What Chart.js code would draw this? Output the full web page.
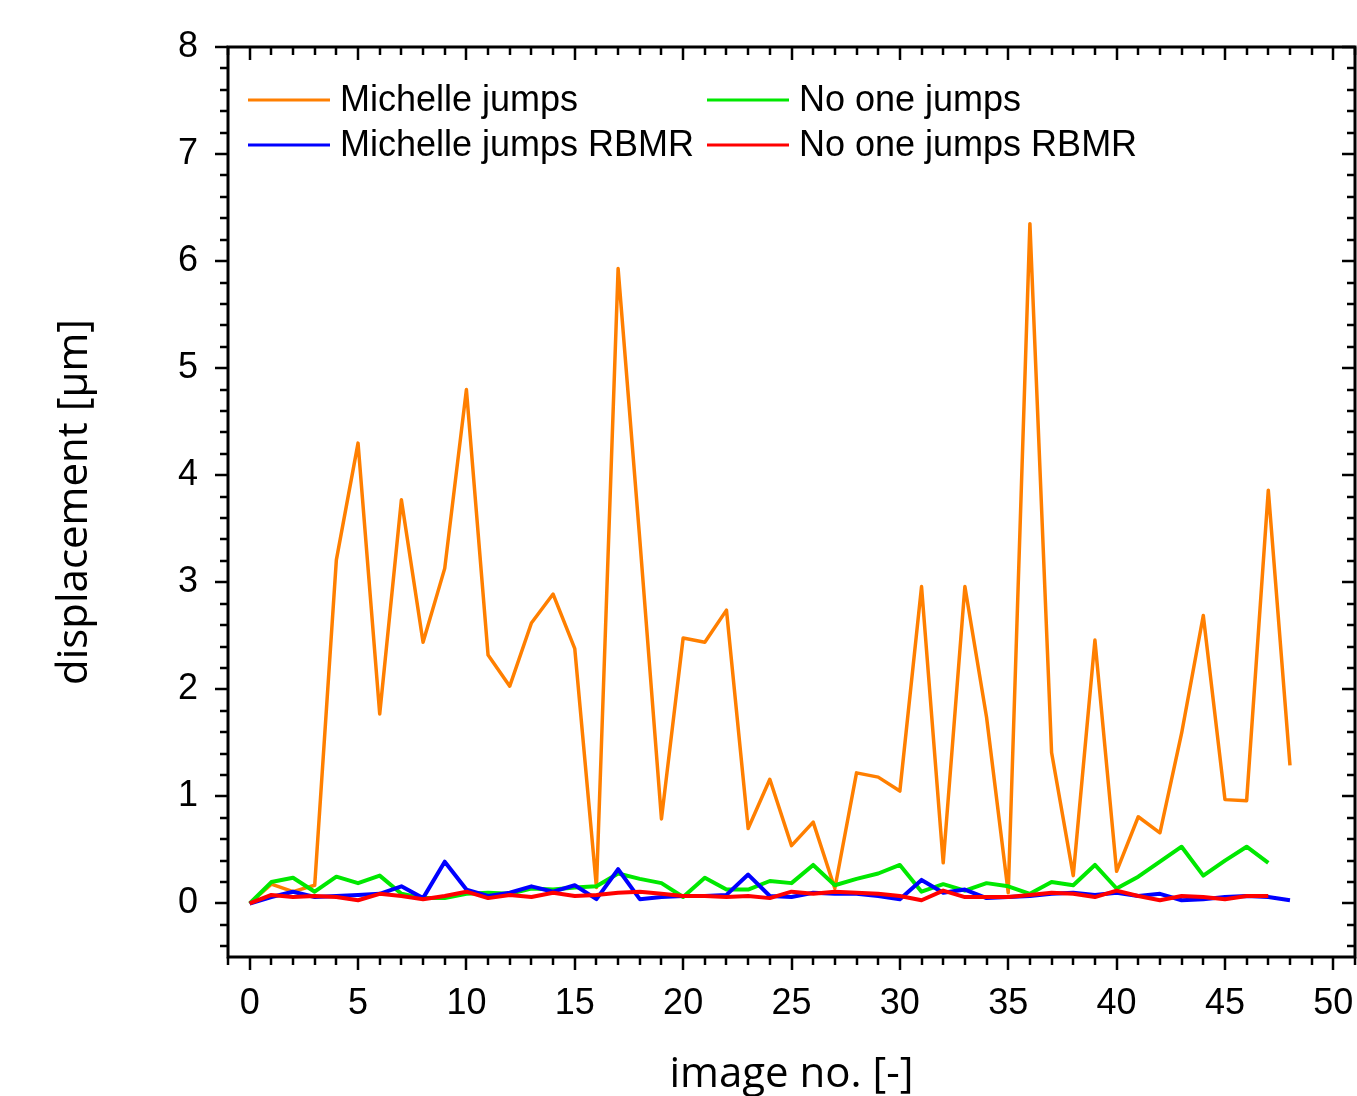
<!DOCTYPE html>
<html>
<head>
<meta charset="utf-8">
<script src="https://cdn.jsdelivr.net/npm/chart.js@4.4.1/dist/chart.umd.min.js"></script>
<style>
  html, body { margin: 0; padding: 0; background: #fff; }
  #wrap { width: 1357px; height: 1096px; }
</style>
</head>
<body>
<div id="wrap"><canvas id="chart1"></canvas></div>
<script>
// image numbers
const imageNo = [0, 1, 2, 3, 4, 5, 6, 7, 8, 9, 10, 11, 12, 13, 14, 15, 16, 17, 18, 19, 20,
  21, 22, 23, 24, 25, 26, 27, 28, 29, 30, 31, 32, 33, 34, 35, 36, 37, 38, 39, 40,
  41, 42, 43, 44, 45, 46, 47, 48];

// displacement in µm
const michelleJumps = [0, 0.18, 0.11, 0.17, 3.21, 4.30, 1.77, 3.77, 2.44, 3.13, 4.80, 2.32,
  2.03, 2.62, 2.89, 2.38, 0.15, 5.93, 3.40, 0.79, 2.48, 2.44, 2.74, 0.70, 1.16, 0.54, 0.76,
  0.14, 1.22, 1.18, 1.05, 2.96, 0.38, 2.96, 1.74, 0.10, 6.35, 1.41, 0.26, 2.46, 0.30, 0.81,
  0.66, 1.59, 2.69, 0.97, 0.96, 3.86, 1.29];
const noOneJumps = [0, 0.20, 0.24, 0.11, 0.25, 0.19, 0.26, 0.09, 0.05, 0.05, 0.09, 0.10,
  0.09, 0.14, 0.13, 0.15, 0.16, 0.28, 0.23, 0.19, 0.06, 0.24, 0.13, 0.13, 0.21, 0.19, 0.36,
  0.17, 0.23, 0.28, 0.36, 0.11, 0.18, 0.12, 0.19, 0.16, 0.09, 0.20, 0.17, 0.36, 0.14, 0.25,
  0.39, 0.53, 0.26, 0.40, 0.53, 0.38];
const michelleJumpsRBMR = [0, 0.06, 0.11, 0.06, 0.07, 0.08, 0.09, 0.16, 0.05, 0.39, 0.13,
  0.07, 0.10, 0.16, 0.11, 0.17, 0.04, 0.32, 0.04, 0.06, 0.07, 0.07, 0.08, 0.27, 0.07, 0.06,
  0.10, 0.09, 0.09, 0.07, 0.04, 0.22, 0.10, 0.13, 0.05, 0.06, 0.07, 0.09, 0.10, 0.08, 0.10,
  0.07, 0.09, 0.03, 0.04, 0.06, 0.07, 0.06, 0.03];
const noOneJumpsRBMR = [0, 0.08, 0.06, 0.07, 0.06, 0.03, 0.09, 0.07, 0.04, 0.07, 0.11,
  0.05, 0.08, 0.06, 0.10, 0.07, 0.08, 0.10, 0.11, 0.09, 0.07, 0.07, 0.06, 0.07, 0.05, 0.11,
  0.09, 0.11, 0.10, 0.09, 0.07, 0.03, 0.12, 0.06, 0.06, 0.06, 0.08, 0.10, 0.09, 0.06, 0.12,
  0.07, 0.03, 0.07, 0.06, 0.04, 0.07, 0.07];

function toPoints(vals) {
  return vals.map((v, i) => ({x: imageNo[i], y: v}));
}

const tickFont = {family: "'Liberation Sans', Arial, sans-serif", size: 36};
const titleFont = {family: "'Open Sans', 'Noto Sans', sans-serif", size: 42, lineHeight: 1};

// box round the plot with ticks: long ones at labels, short ones between
const frameTicks = {
  id: 'frameTicks',
  afterDatasetsDraw(chart) {
    const {ctx, chartArea: a, scales: {x, y}} = chart;
    ctx.save();
    ctx.strokeStyle = '#000';
    ctx.lineWidth = 2.5;
    ctx.beginPath();
    for (let v = -1; v <= 51; v++) {
      const px = Math.round(x.getPixelForValue(v));
      const len = v % 5 === 0 ? 13 : 8;
      ctx.moveTo(px, a.bottom); ctx.lineTo(px, a.bottom + len);
      ctx.moveTo(px, a.top); ctx.lineTo(px, a.top + len);
    }
    for (let k = -2; k <= 40; k++) {
      const py = Math.round(y.getPixelForValue(k / 5));
      const len = k % 5 === 0 ? 13 : 8;
      ctx.moveTo(a.left, py); ctx.lineTo(a.left - len, py);
      ctx.moveTo(a.right, py); ctx.lineTo(a.right - len, py);
    }
    ctx.stroke();
    ctx.lineWidth = 3;
    ctx.strokeRect(a.left, a.top, a.width, a.height);
    ctx.restore();
  }
};

// legend in two columns inside the plot
const boxLegend = {
  id: 'boxLegend',
  afterDraw(chart) {
    const ctx = chart.ctx;
    const spots = [[248, 100], [248, 145], [707, 100], [707, 145]];
    const order = [0, 2, 1, 3];
    ctx.save();
    ctx.font = "36px 'Liberation Sans', Arial, sans-serif";
    ctx.textBaseline = 'middle';
    ctx.fillStyle = '#000';
    order.forEach((d, n) => {
      const ds = chart.data.datasets[d];
      const [lx, ly] = spots[n];
      ctx.strokeStyle = ds.borderColor;
      ctx.lineWidth = 3;
      ctx.beginPath();
      ctx.moveTo(lx, ly); ctx.lineTo(lx + 82, ly);
      ctx.stroke();
      ctx.fillText(ds.label, lx + 92, ly + 1);
    });
    ctx.restore();
  }
};

const ctx = document.getElementById('chart1');

const myChart = new Chart(ctx, {
  type: 'line',
  data: {
    datasets: [{
      label: 'Michelle jumps',
      data: toPoints(michelleJumps),
      borderColor: '#ff7f00',
      borderWidth: 3.5,
      order: 3
    }, {
      label: 'No one jumps',
      data: toPoints(noOneJumps),
      borderColor: '#00e800',
      borderWidth: 4,
      order: 2
    }, {
      label: 'Michelle jumps RBMR',
      data: toPoints(michelleJumpsRBMR),
      borderColor: '#0000ff',
      borderWidth: 4,
      order: 1
    }, {
      label: 'No one jumps RBMR',
      data: toPoints(noOneJumpsRBMR),
      borderColor: '#ff0000',
      borderWidth: 4,
      order: 0
    }]
  },
  options: {
    responsive: true,
    maintainAspectRatio: false,
    animation: false,
    devicePixelRatio: 1,
    layout: {padding: {top: 47, right: 2, left: 0, bottom: 0}},
    elements: {
      point: {radius: 0},
      line: {tension: 0, fill: false, borderJoinStyle: 'round'}
    },
    plugins: {
      legend: {display: false},
      tooltip: {enabled: false}
    },
    scales: {
      x: {
        type: 'linear',
        min: -1,
        max: 51,
        afterFit: s => { s.height = 139; s.paddingLeft = 0; s.paddingRight = 0; },
        grid: {display: false, drawTicks: false},
        border: {display: false},
        ticks: {
          stepSize: 5,
          includeBounds: false,
          autoSkip: false,
          maxRotation: 0,
          padding: 25,
          color: '#000',
          font: tickFont
        },
        title: {
          display: true,
          text: 'image no. [-]',
          color: '#000',
          font: titleFont,
          padding: {top: 0, bottom: 0}
        }
      },
      y: {
        min: -0.5,
        max: 8,
        afterFit: s => { s.width = 228; s.paddingTop = 0; s.paddingBottom = 0; },
        grid: {display: false, drawTicks: false},
        border: {display: false},
        ticks: {
          stepSize: 1,
          includeBounds: false,
          padding: 30,
          color: '#000',
          font: tickFont
        },
        title: {
          display: true,
          text: 'displacement [µm]',
          color: '#000',
          font: titleFont,
          padding: {top: 54, bottom: 0}
        }
      }
    }
  },
  plugins: [frameTicks, boxLegend]
});
</script>
</body>
</html>
